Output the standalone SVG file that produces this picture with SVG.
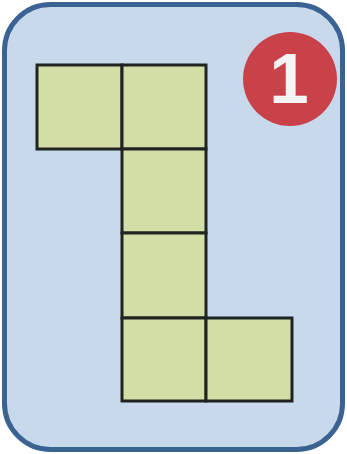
<svg xmlns="http://www.w3.org/2000/svg" width="347" height="454" viewBox="0 0 347 454">
<style>
.sq{fill:#d3dea7;stroke:#1f2420;stroke-width:3}
.badge{fill:#c9424a}
.num{font-family:"Liberation Sans",Arial,sans-serif;font-weight:bold;font-size:71px;fill:#f4f4f4}
</style>
<rect x="0" y="0" width="347" height="454" fill="#ffffff"/>
<rect id="card" x="4.5" y="4.5" width="338" height="445" rx="46" ry="46" fill="#c9d9ec" stroke="#3a6394" stroke-width="5"/>
<g id="squares">
<rect id="sq1" class="sq" x="37" y="65" width="85" height="84"/>
<rect id="sq2" class="sq" x="122" y="65" width="84" height="84"/>
<rect id="sq3" class="sq" x="122" y="149" width="84" height="84"/>
<rect id="sq4" class="sq" x="122" y="233" width="84" height="85"/>
<rect id="sq5" class="sq" x="122" y="318" width="84" height="83"/>
<rect id="sq6" class="sq" x="206" y="318" width="86" height="83"/>
</g>
<g id="badge">
<circle class="badge" cx="290" cy="79" r="47"/>
<text class="num" x="289" y="103" text-anchor="middle">1</text>
</g>
</svg>
